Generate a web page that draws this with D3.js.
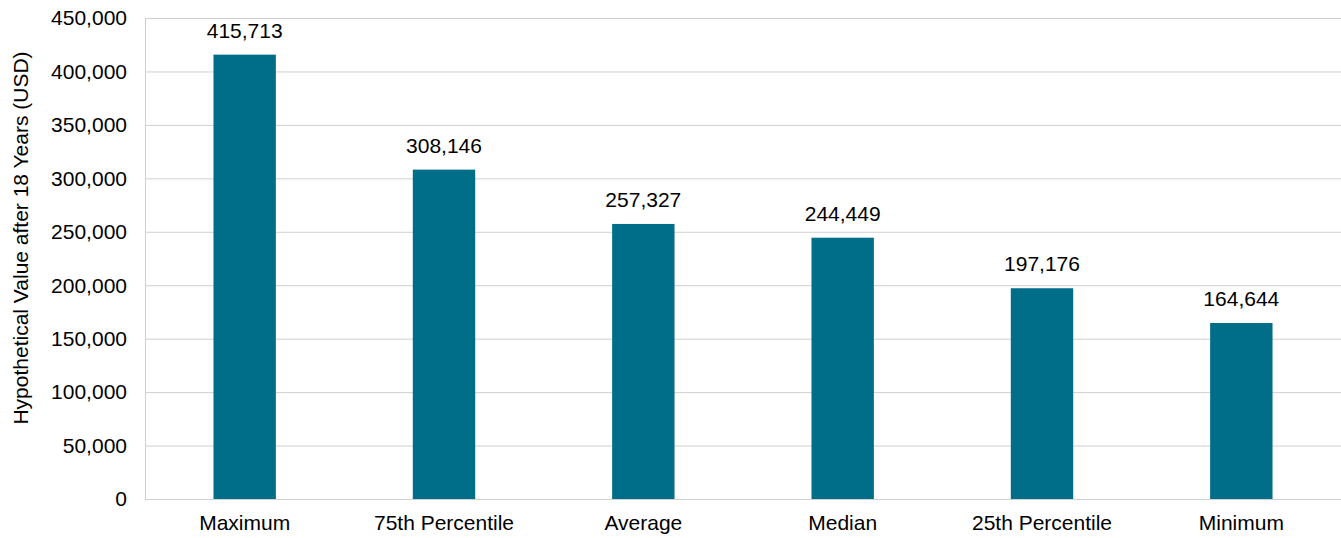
<!DOCTYPE html>
<html>
<head>
<meta charset="utf-8">
<script src="https://cdn.jsdelivr.net/npm/d3@7"></script>
<style>
	body { margin: 0; background: #fff; }
	svg text { font-family: "Liberation Sans", Arial, sans-serif; fill: #000; }
</style>
</head>
<body>
<svg id="chart" width="1341" height="538"></svg>
<script>
var categories = ["Maximum", "75th Percentile", "Average", "Median", "25th Percentile", "Minimum"];
var values = [415713, 308146, 257327, 244449, 197176, 164644];
var yTicks = [0, 50000, 100000, 150000, 200000, 250000, 300000, 350000, 400000, 450000];

var svg = d3.select("#chart");
var plotLeft = 145, plotRight = 1341, plotTop = 18, plotBottom = 499;
var fmt = d3.format(",");

var x = d3.scaleBand()
	.domain(categories)
	.range([plotLeft, plotRight])
	.padding(0);

var y = d3.scaleLinear()
	.domain([0, 450000])
	.range([plotBottom, plotTop]);

var barW = x.bandwidth() * 0.313;

// gridlines
svg.append("g")
	.selectAll("line")
	.data(yTicks)
	.enter().append("line")
	.attr("x1", plotLeft)
	.attr("x2", plotRight)
	.attr("y1", (d) => y(d) + 0.5)
	.attr("y2", (d) => y(d) + 0.5)
	.style("stroke", "#d0d0d0")
	.style("stroke-width", 1);

// left axis line
svg.append("line")
	.attr("x1", plotLeft + 0.5)
	.attr("x2", plotLeft + 0.5)
	.attr("y1", plotTop)
	.attr("y2", plotBottom + 1)
	.style("stroke", "#d0d0d0");

// y tick labels
svg.append("g")
	.selectAll("text")
	.data(yTicks)
	.enter().append("text")
	.attr("x", 127)
	.attr("y", (d) => y(d))
	.attr("dy", "0.35em")
	.attr("text-anchor", "end")
	.style("font-size", "21px")
	.text((d) => fmt(d));

// bars
svg.append("g")
	.selectAll("rect")
	.data(values)
	.enter().append("rect")
	.attr("x", (d, i) => x(categories[i]) + (x.bandwidth() - barW) / 2)
	.attr("y", (d) => y(d))
	.attr("width", barW)
	.attr("height", (d) => plotBottom - y(d))
	.style("fill", "#006e89");

// value labels
svg.append("g")
	.selectAll("text")
	.data(values)
	.enter().append("text")
	.attr("x", (d, i) => x(categories[i]) + x.bandwidth() / 2)
	.attr("y", (d) => y(d) - 17)
	.attr("text-anchor", "middle")
	.style("font-size", "21px")
	.text((d) => fmt(d));

// category labels
svg.append("g")
	.selectAll("text")
	.data(categories)
	.enter().append("text")
	.attr("x", (d) => x(d) + x.bandwidth() / 2)
	.attr("y", 530)
	.attr("text-anchor", "middle")
	.style("font-size", "21px")
	.text((d) => d);

// y axis title
svg.append("text")
	.attr("transform", "translate(28," + 238 + ") rotate(-90)")
	.attr("text-anchor", "middle")
	.style("font-size", "21px")
	.text("Hypothetical Value after 18 Years (USD)");
</script>
</body>
</html>
